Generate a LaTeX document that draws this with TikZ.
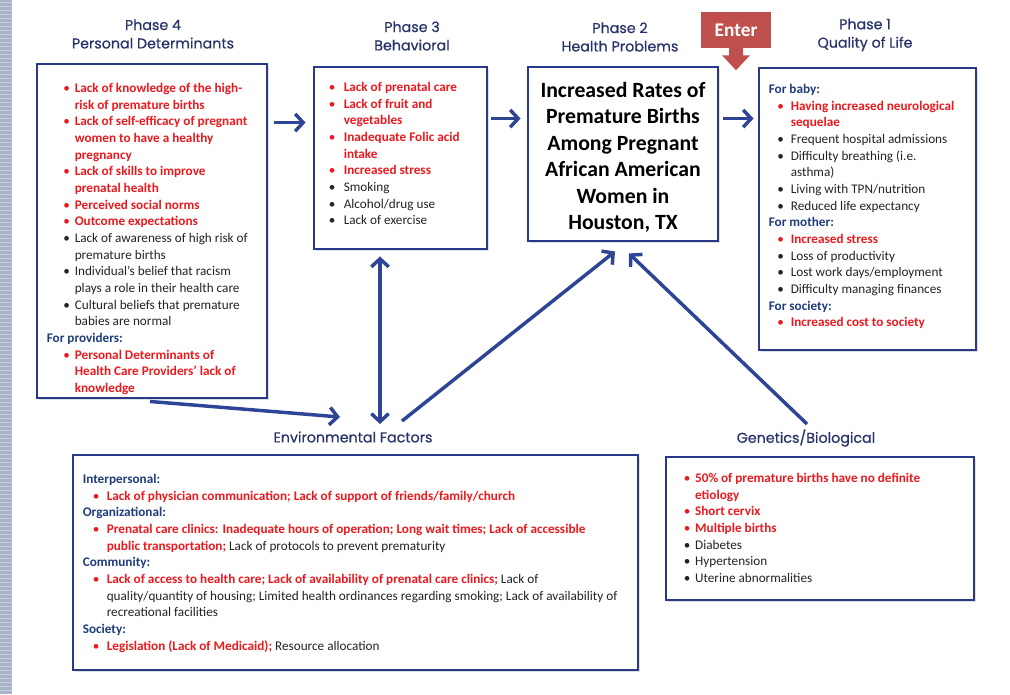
\documentclass[tikz,border=0pt]{standalone}
\usepackage{fontspec}
\setmainfont{Carlito}
\newfontfamily\headfont[FakeBold=0.6]{Poppins}
\usepackage{array}
\usetikzlibrary{arrows.meta, positioning, calc, fit, shadows}

\definecolor{navy}{RGB}{42,56,138}
\definecolor{arrowblue}{RGB}{46,68,148}
\definecolor{headblue}{RGB}{40,52,105}
\definecolor{subblue}{RGB}{31,60,125}
\definecolor{tred}{RGB}{235,25,30}
\definecolor{tblack}{RGB}{35,35,35}
\definecolor{enterred}{RGB}{192,80,77}
\definecolor{stripe}{RGB}{168,180,200}

\newcommand{\rt}[1]{\textcolor{tred}{\bfseries #1}}
\newcommand{\rb}{\textcolor{tred}{\textbullet}}
\newcommand{\kb}{\textbullet}
\newcommand{\hd}[1]{\multicolumn{2}{@{}l@{}}{\textcolor{subblue}{\bfseries #1}}}

\begin{document}
\begin{tikzpicture}[x=0.75pt, y=-0.75pt,
    >={Straight Barb[length=6pt, width=13pt]},
    box/.style={draw=navy, line width=2.2pt, fill=white, inner sep=0pt,
      drop shadow={opacity=0.25, shadow xshift=1.2pt, shadow yshift=-1.2pt}},
    txt/.style={anchor=north west, inner sep=0pt, text=tblack,
      font=\fontsize{9.9}{12.5}\selectfont},
    phase/.style={align=center, text=headblue, inner sep=0pt,
      font=\headfont\fontsize{10.7}{13.8}\selectfont},
    link/.style={->, draw=arrowblue, line width=2.6pt},
    enter/.style={fill=enterred, text=white, inner sep=0pt,
      minimum width=52.5pt, minimum height=27pt,
      font=\bfseries\fontsize{14.5}{17}\selectfont}]
  \useasboundingbox (0,0) rectangle (1010,694);
  \fill[stripe] (0,0) rectangle (12,694);
  \foreach \y in {2,6,...,694}
    \draw[white, opacity=0.35, line width=0.6pt] (0,\y) -- (12,\y);

  \node[box, fit={(37,64) (267,398)}] (p4) {};
  \node[box, fit={(314,67) (487,249)}] (p3) {};
  \node[box, fit={(528,67) (718,241)}] (p2) {};
  \node[box, fit={(759,68) (976,350)}] (p1) {};
  \node[box, fit={(73,455) (638,670)}] (env) {};
  \node[box, fit={(666,457) (974,600)}] (gen) {};

  \node[phase] (h4) at (153,34) {Phase 4\\Personal Determinants};
  \node[phase] (h3) at (412,36) {Phase 3\\Behavioral};
  \node[phase] (h2) at (620,37) {Phase 2\\Health Problems};
  \node[phase] (h1) at (865,35) {Phase 1\\Quality of Life};
  \node[phase] (envlbl) at (353,437) {Environmental Factors};
  \node[phase] (genlbl) at (806,438) {Genetics/Biological};

  \node[enter] (enter) at (736,30) {Enter};
  \fill[enterred] ($(enter.south)+(-7,-1)$) -- ++(0,8) -- ++(-7,0)
    -- ($(enter.south)+(0,22)$) -- ($(enter.south)+(14,7)$) -- ++(-7,0) -- ++(0,-8) -- cycle;

  \node[txt] (p4txt) at ($(p4.north west)+(11,18)$) {%
    \begin{tabular}{@{\hspace{12.4pt}}p{8.6pt}@{}l@{}}
      \rb & \rt{Lack of knowledge of the high-}\\
          & \rt{risk of premature births}\\
      \rb & \rt{Lack of self-efficacy of pregnant}\\
          & \rt{women to have a healthy}\\
          & \rt{pregnancy}\\
      \rb & \rt{Lack of skills to improve}\\
          & \rt{prenatal health}\\
      \rb & \rt{Perceived social norms}\\
      \rb & \rt{Outcome expectations}\\
      \kb & Lack of awareness of high risk of\\
          & premature births\\
      \kb & Individual’s belief that racism\\
          & plays a role in their health care\\
      \kb & Cultural beliefs that premature\\
          & babies are normal\\
      \hd{For providers:}\\
      \rb & \rt{Personal Determinants of}\\
          & \rt{Health Care Providers’ lack of}\\
          & \rt{knowledge}\\
    \end{tabular}};

  \node[txt] (p3txt) at ($(p3.north west)+(16,14)$) {%
    \begin{tabular}{@{}p{11.25pt}@{}l@{}}
      \rb & \rt{Lack of prenatal care}\\
      \rb & \rt{Lack of fruit and}\\
          & \rt{vegetables}\\
      \rb & \rt{Inadequate Folic acid}\\
          & \rt{intake}\\
      \rb & \rt{Increased stress}\\
      \kb & Smoking\\
      \kb & Alcohol/drug use\\
      \kb & Lack of exercise\\
    \end{tabular}};

  \node[align=center, inner sep=0pt, font=\bfseries\fontsize{16.3}{19.9}\selectfont]
    (p2txt) at ($(p2)+(0,3.5)$)
    {Increased Rates of\\Premature Births\\Among Pregnant\\African American\\Women in\\Houston, TX};

  \node[txt] (p1txt) at ($(p1.north west)+(11,15)$) {%
    \begin{tabular}{@{\hspace{6.5pt}}p{10pt}@{}l@{}}
      \hd{For baby:}\\
      \rb & \rt{Having increased neurological}\\
          & \rt{sequelae}\\
      \kb & Frequent hospital admissions\\
      \kb & Difficulty breathing (i.e.\\
          & asthma)\\
      \kb & Living with TPN/nutrition\\
      \kb & Reduced life expectancy\\
      \hd{For mother:}\\
      \rb & \rt{Increased stress}\\
      \kb & Loss of productivity\\
      \kb & Lost work days/employment\\
      \kb & Difficulty managing finances\\
      \hd{For society:}\\
      \rb & \rt{Increased cost to society}\\
    \end{tabular}};

  \node[txt] (envtxt) at ($(env.north west)+(11,18)$) {%
    \begin{tabular}{@{\hspace{7.5pt}}p{10.5pt}@{}l@{}}
      \hd{Interpersonal:}\\
      \rb & \rt{Lack of physician communication; Lack of support of friends/family/church}\\
      \hd{Organizational:}\\
      \rb & \rt{Prenatal care clinics: Inadequate hours of operation; Long wait times; Lack of accessible}\\
          & \rt{public transportation;} Lack of protocols to prevent prematurity\\
      \hd{Community:}\\
      \rb & \rt{Lack of access to health care; Lack of availability of prenatal care clinics;} Lack of\\
          & quality/quantity of housing; Limited health ordinances regarding smoking; Lack of availability of\\
          & recreational facilities\\
      \hd{Society:}\\
      \rb & \rt{Legislation (Lack of Medicaid);} Resource allocation\\
    \end{tabular}};

  \node[txt] (gentxt) at ($(gen.north west)+(19,15)$) {%
    \begin{tabular}{@{}p{8.5pt}@{}l@{}}
      \rb & \rt{50\% of premature births have no definite}\\
          & \rt{etiology}\\
      \rb & \rt{Short cervix}\\
      \rb & \rt{Multiple births}\\
      \kb & Diabetes\\
      \kb & Hypertension\\
      \kb & Uterine abnormalities\\
    \end{tabular}};

  \draw[link] ($(p4.north east)+(6,60)$) -- ($(p3.north west)+(-7,57)$);
  \draw[link] ($(p3.north east)+(3,53)$) -- ($(p2.north west)+(-6,53)$);
  \draw[link] ($(p2.north east)+(4,53)$) -- ($(p1.north west)+(-4,52)$);
  \draw[link, <->] ($(p3.south)+(-20.5,6)$) -- ($(envlbl)+(27,-13)$);
  \draw[link] ($(envlbl)+(49,-16)$) -- ($(p2.south)+(-8,9)$);
  \draw[link] ($(genlbl)+(1,-14)$) -- ($(p2.south)+(6,11)$);
  \draw[link] ($(p4.south)+(-2,2)$) -- ($(envlbl)+(-13,-20)$);
\end{tikzpicture}
\end{document}
